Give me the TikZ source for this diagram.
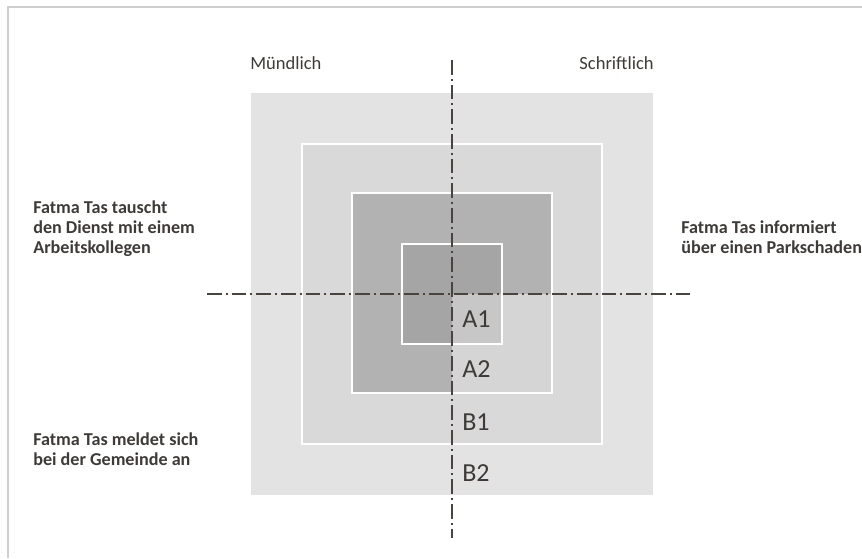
\documentclass[tikz,border=0pt]{standalone}
\usepackage{fontspec}
\setmainfont{Carlito}
\usepackage{xcolor}
\usepackage{tikz}
\definecolor{ringbtwo}{HTML}{E3E3E3}
\definecolor{ringbone}{HTML}{D9D9D9}
\definecolor{ringatwo}{HTML}{B2B2B2}
\definecolor{ringaone}{HTML}{A5A5A5}
\definecolor{ringatwolight}{HTML}{D5D5D5}
\definecolor{ringaonelight}{HTML}{C7C7C7}
\definecolor{axisgray}{HTML}{4A443F}
\definecolor{textgray}{HTML}{3E3A37}
\definecolor{framegray}{HTML}{CFCFCF}
\usetikzlibrary{positioning}

\begin{document}
\begin{tikzpicture}[
    x=0.75pt, y=-0.75pt,
    ring/.style={draw=white, line width=1.5pt},
    axis/.style={draw=axisgray, line width=0.9pt,
                 dash pattern=on 11pt off 3pt on 1.5pt off 3pt},
    side/.style={font=\fontsize{13.9}{15}\selectfont, text=textgray, inner sep=0pt},
    casetext/.style={font=\fontsize{13.6}{15}\selectfont\bfseries, text=textgray,
                     align=left, inner sep=0pt},
    level/.style={font=\fontsize{19.5}{22}\selectfont, text=textgray, inner sep=0pt}
]
    \useasboundingbox (0,0) rectangle (862,558);
    \draw[framegray, line width=1.1pt] (8,558) -- (8,7) -- (862,7);

    % nested squares, outside in
    \foreach \half/\col in {202/ringbtwo, 150/ringbone}
        \filldraw[ring, fill=\col] ({452-\half},{294-\half}) rectangle ({452+\half},{294+\half});
    \fill[ringatwo] (352,193) rectangle (552,393);
    \fill[ringatwolight] (452,294) rectangle (552,393);
    \draw[ring] (352,193) rectangle (552,393);
    \fill[ringaone] (402,244) rectangle (502,344);
    \fill[ringaonelight] (452,294) rectangle (502,344);
    \draw[ring] (402,244) rectangle (502,344);

    \coordinate (vtop) at (452,60);
    \coordinate (vbot) at (452,538);
    \coordinate (hleft) at (207,294);
    \coordinate (hright) at (693,294);
    \draw[axis] (vtop) -- (vbot);
    \draw[axis] (hleft) -- (hright);

    \node[side, anchor=base west] (oral) at (250,69) {Mündlich};
    \node[side, anchor=base east] (written) at (654,69) {Schriftlich};

    % base anchor of a multi-line node sits on its last line
    \node[casetext, anchor=base west] (swap) at (33,253)
        {Fatma Tas tauscht\\den Dienst mit einem\\Arbeitskollegen};
    \node[casetext, anchor=base west] (park) at (681,253)
        {Fatma Tas informiert\\über einen Parkschaden};
    \node[casetext, anchor=base west] (register) at (33,465)
        {Fatma Tas meldet sich\\bei der Gemeinde an};

    \node[level, anchor=base west] (a1) at (462,327) {A1};
    \node[level, anchor=base west] (a2) at (462,377) {A2};
    \node[level, anchor=base west] (b1) at (462,430) {B1};
    \node[level, anchor=base west] (b2) at (462,481) {B2};
\end{tikzpicture}
\end{document}
